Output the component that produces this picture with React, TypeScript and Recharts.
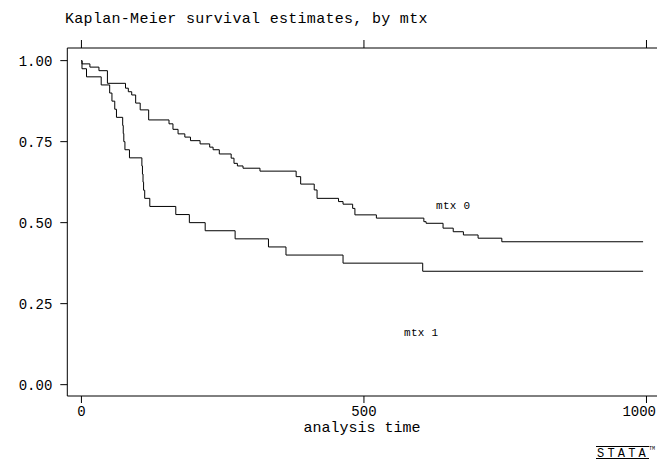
import React from 'react';
import { LineChart, Line, XAxis, YAxis } from 'recharts';

// Kaplan-Meier step estimates
const MTX0_TIME = [0, 1, 15, 31, 46, 78, 83, 89, 96, 104, 119, 155, 162, 171, 183, 193, 210, 227, 233, 244, 265, 270, 276, 286, 316, 380, 388, 412, 417, 455, 463, 480, 484, 522, 606, 610, 640, 658, 676, 702, 744, 994];
const MTX0_SURV = [1, 0.99, 0.98, 0.969, 0.93, 0.915, 0.904, 0.894, 0.869, 0.848, 0.817, 0.805, 0.788, 0.774, 0.764, 0.753, 0.743, 0.733, 0.725, 0.712, 0.699, 0.683, 0.675, 0.668, 0.659, 0.642, 0.619, 0.601, 0.575, 0.565, 0.557, 0.544, 0.524, 0.514, 0.503, 0.498, 0.483, 0.472, 0.462, 0.452, 0.441, 0.441];

const MTX1_TIME = [0, 1, 9, 35, 50, 54, 59, 62, 73, 74, 75, 77, 85, 107, 108, 109, 110, 112, 121, 167, 191, 219, 272, 331, 362, 463, 604, 994];
const MTX1_SURV = [1, 0.975, 0.95, 0.925, 0.9, 0.875, 0.85, 0.825, 0.8, 0.775, 0.75, 0.725, 0.7, 0.675, 0.65, 0.625, 0.6, 0.575, 0.55, 0.525, 0.5, 0.475, 0.45, 0.425, 0.4, 0.375, 0.35, 0.35];

const X_TICKS = [0, 500, 1000];
const Y_TICKS = [0, 0.25, 0.5, 0.75, 1];

const mtx0 = MTX0_TIME.map((t, i) => ({ t, s: MTX0_SURV[i] }));
const mtx1 = MTX1_TIME.map((t, i) => ({ t, s: MTX1_SURV[i] }));

const FONT = '"Liberation Mono", "DejaVu Sans Mono", monospace';
const tickStyle = { fill: '#000', fontSize: 14, fontFamily: FONT };

// bottom tick labels; the last one is pulled in so it stays inside the frame
const XTick = (props: any) => {
  const { x, y, payload } = props;
  const last = payload.value === X_TICKS[X_TICKS.length - 1];
  return (
    <text
      x={last ? 656 : x}
      y={y}
      dy="0.71em"
      textAnchor={last ? 'end' : 'middle'}
      fontFamily={FONT}
      fontSize={14}
      fill="#000"
    >
      {payload.value}
    </text>
  );
};

const NoLabel = () => <g />;

export default function App() {
  return (
    <div style={{ position: 'fixed', left: 0, top: 0, width: 657, height: 465, overflow: 'hidden', background: '#fff' }}>
      <LineChart width={670} height={465} margin={{ top: 47, right: 9.4, bottom: 0, left: 0 }}>
        <XAxis
          xAxisId="bottom"
          type="number"
          dataKey="t"
          domain={[-25, 1025]}
          ticks={X_TICKS}
          interval={0}
          allowDataOverflow
          height={69}
          tickSize={7}
          tickMargin={3}
          axisLine={{ stroke: '#000' }}
          tickLine={{ stroke: '#000' }}
          tick={<XTick />}
        />
        <XAxis
          xAxisId="top"
          orientation="top"
          type="number"
          dataKey="t"
          domain={[-25, 1025]}
          ticks={X_TICKS}
          interval={0}
          allowDataOverflow
          height={1}
          tickSize={8}
          axisLine={{ stroke: '#000' }}
          tickLine={{ stroke: '#000' }}
          tick={<NoLabel />}
        />
        <YAxis
          type="number"
          domain={[-0.035, 1.039]}
          ticks={Y_TICKS}
          interval={0}
          allowDataOverflow
          width={67.3}
          tickSize={7}
          tickMargin={8}
          tickFormatter={(v: number) => v.toFixed(2)}
          axisLine={{ stroke: '#000' }}
          tickLine={{ stroke: '#000' }}
          tick={tickStyle}
        />
        <Line xAxisId="bottom" data={mtx0} dataKey="s" type="stepAfter" stroke="#000" strokeWidth={1} dot={false} isAnimationActive={false} />
        <Line xAxisId="bottom" data={mtx1} dataKey="s" type="stepAfter" stroke="#000" strokeWidth={1} dot={false} isAnimationActive={false} />
      </LineChart>
      <svg width={657} height={465} style={{ position: 'absolute', left: 0, top: 0, pointerEvents: 'none' }}>
        <text x={65} y={23} fontFamily={FONT} fontSize={15} letterSpacing={0.3} fill="#000">
          Kaplan-Meier survival estimates, by mtx
        </text>
        <text x={362} y={432} textAnchor="middle" fontFamily={FONT} fontSize={15} fill="#000">
          analysis time
        </text>
        <text x={436} y={209} fontFamily={FONT} fontSize={11} letterSpacing={0.3} fill="#000">mtx 0</text>
        <text x={404} y={336} fontFamily={FONT} fontSize={11} letterSpacing={0.3} fill="#000">mtx 1</text>
        <line x1={596} x2={649} y1={446.5} y2={446.5} stroke="#000" strokeWidth={1} />
        <text x={597} y={456.5} fontFamily={FONT} fontSize={12} letterSpacing={3.2} fill="#000">STATA</text>
        <text x={649} y={450} fontFamily={FONT} fontSize={5} fill="#000">TM</text>
        <line x1={596} x2={649} y1={458.5} y2={458.5} stroke="#000" strokeWidth={1} />
      </svg>
    </div>
  );
}
